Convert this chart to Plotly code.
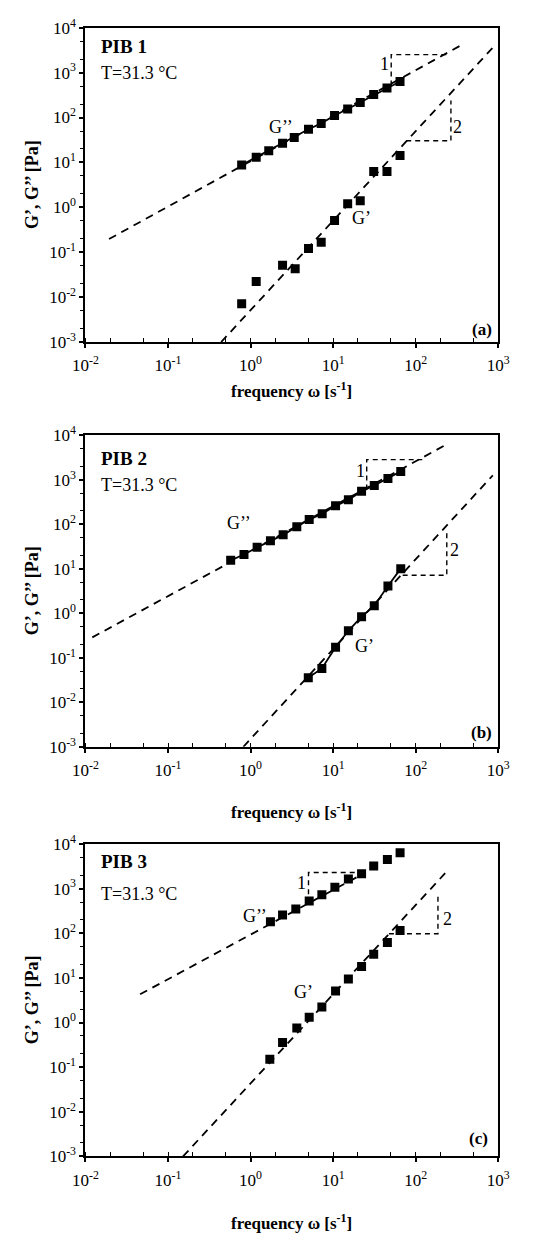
import plotly.graph_objects as go

# ---------------- data ----------------
# PIB 1
w1_Gpp = [0.78, 1.17, 1.66, 2.44, 3.38, 5.03, 7.17, 10.4, 15.0, 21.3, 31.0, 44.9, 64.6]
Gpp1 = [8.8, 13.1, 18.1, 26.6, 36, 55, 74, 111, 155, 217, 325, 456, 635]
w1_Gp = [0.78, 1.17, 2.44, 3.47, 5.03, 7.17, 10.4, 15.0, 21.3, 31.0, 44.9, 64.6]
Gp1 = [0.0071, 0.0223, 0.0514, 0.0428, 0.121, 0.167, 0.507, 1.21, 1.41, 6.3, 6.3, 14.3]
fit1_Gpp_w = [0.0193, 364]
fit1_Gpp = [0.197, 4180]
fit1_Gp_w = [0.44, 923]
fit1_Gp = [0.001, 4170]
tri1_a_w = [50.5, 50.5, 247]
tri1_a_G = [516, 2520, 2520]
tri2_a_w = [76.7, 267, 267]
tri2_a_G = [30.5, 30.5, 240]

# PIB 2
w2_Gpp = [0.574, 0.832, 1.2, 1.74, 2.48, 3.63, 5.13, 7.37, 10.7, 15.3, 22.1, 31.5, 46.1, 65.9]
Gpp2 = [15.5, 21, 30.4, 42.7, 58, 88.5, 128, 174, 261, 355, 552, 749, 1068, 1549]
w2_Gp = [5.0, 7.3, 10.7, 15.3, 22.1, 31.5, 46.1, 65.9]
Gp2 = [0.0358, 0.0578, 0.173, 0.405, 0.838, 1.48, 4.13, 10.1]
fit2_Gpp_w = [0.0121, 227.5]
fit2_Gpp = [0.288, 6010]
fit2_Gp_w = [0.818, 859]
fit2_Gp = [0.001, 1265]
tri1_b_w = [25.5, 25.5, 120]
tri1_b_G = [604, 2851, 2851]
tri2_b_w = [69.5, 238, 238]
tri2_b_G = [7.2, 7.2, 71]

# PIB 3
w3_Gpp = [1.74, 2.44, 3.53, 5.13, 7.3, 10.5, 15.3, 22.1, 31.0, 45.4, 64.7]
Gpp3 = [182, 256, 348, 529, 728, 1075, 1637, 2153, 3228, 4510, 6340]
w3_Gp = [1.71, 2.44, 3.63, 5.13, 7.3, 10.7, 15.3, 22.1, 31.0, 45.4, 64.7]
Gp3 = [0.151, 0.357, 0.753, 1.32, 2.22, 5.07, 9.5, 18, 33.7, 62, 116]
fit3_Gpp_w = [0.0459, 24.7]
fit3_Gpp = [4.29, 2301]
fit3_Gp_w = [0.152, 227.5]
fit3_Gp = [0.001, 2218]
tri1_c_w = [5.03, 5.03, 24.7]
tri1_c_G = [470, 2301, 2301]
tri2_c_w = [47.4, 186, 186]
tri2_c_G = [97.7, 97.7, 681]

x_tickvals = [1e-2, 1e-1, 1e0, 1e1, 1e2, 1e3]
x_ticktext = ["10<sup>-2</sup>", "10<sup>-1</sup>", "10<sup>0</sup>", "10<sup>1</sup>", "10<sup>2</sup>", "10<sup>3</sup>"]
y_tickvals = [1e-3, 1e-2, 1e-1, 1e0, 1e1, 1e2, 1e3, 1e4]
y_ticktext = ["10<sup>-3</sup>", "10<sup>-2</sup>", "10<sup>-1</sup>", "10<sup>0</sup>",
              "10<sup>1</sup>", "10<sup>2</sup>", "10<sup>3</sup>", "10<sup>4</sup>"]

# ---------------- layout helpers ----------------
W, H = 536, 1244
FONT = "Liberation Serif, Times New Roman, serif"


def px(x):
    return x / W


def py(y):
    return 1 - y / H


panels = [
    (16, 336, "PIB 1", "(a)"),
    (431, 748, "PIB 2", "(b)"),
    (847, 1165, "PIB 3", "(c)"),
]
X0, X1 = 76, 509

fig = go.Figure()

DASH = "8px,6px"


def add_panel(i, wpp, gpp, wp, gp, fpw, fp, fgw, fg, t1w, t1g, t2w, t2g, line_pp, line_p):
    xa = "x" if i == 1 else f"x{i}"
    ya = "y" if i == 1 else f"y{i}"
    dl = dict(color="black", width=1.8, dash=DASH)
    for xs, ys in [(fpw, fp), (fgw, fg)]:
        fig.add_trace(go.Scatter(x=xs, y=ys, mode="lines", line=dl, xaxis=xa, yaxis=ya,
                                 showlegend=False, hoverinfo="skip"))
    tl = dict(color="black", width=1.4, dash="5px,4px")
    for xs, ys in [(t1w, t1g), (t2w, t2g)]:
        fig.add_trace(go.Scatter(x=xs, y=ys, mode="lines", line=tl, xaxis=xa, yaxis=ya,
                                 showlegend=False, hoverinfo="skip"))
    mk = dict(symbol="square", size=9, color="black")
    fig.add_trace(go.Scatter(x=wpp, y=gpp, mode="lines+markers" if line_pp else "markers",
                             marker=mk, line=dict(color="black", width=1.8),
                             xaxis=xa, yaxis=ya, showlegend=False, name="G''"))
    fig.add_trace(go.Scatter(x=wp, y=gp, mode="lines+markers" if line_p else "markers",
                             marker=mk, line=dict(color="black", width=1.8),
                             xaxis=xa, yaxis=ya, showlegend=False, name="G'"))


add_panel(1, w1_Gpp, Gpp1, w1_Gp, Gp1, fit1_Gpp_w, fit1_Gpp, fit1_Gp_w, fit1_Gp,
          tri1_a_w, tri1_a_G, tri2_a_w, tri2_a_G, True, False)
add_panel(2, w2_Gpp, Gpp2, w2_Gp, Gp2, fit2_Gpp_w, fit2_Gpp, fit2_Gp_w, fit2_Gp,
          tri1_b_w, tri1_b_G, tri2_b_w, tri2_b_G, True, True)
add_panel(3, w3_Gpp, Gpp3, w3_Gp, Gp3, fit3_Gpp_w, fit3_Gpp, fit3_Gp_w, fit3_Gp,
          tri1_c_w, tri1_c_G, tri2_c_w, tri2_c_G, False, False)

tickfont = dict(family=FONT, size=17, color="black")
layout = dict(
    width=W, height=H, margin=dict(l=0, r=0, t=0, b=0),
    paper_bgcolor="white", plot_bgcolor="white", showlegend=False,
    font=dict(family=FONT, color="black"),
)
for i, (top, bot, name, tag) in enumerate(panels, start=1):
    xk = "xaxis" if i == 1 else f"xaxis{i}"
    yk = "yaxis" if i == 1 else f"yaxis{i}"
    yref = "y" if i == 1 else f"y{i}"
    xref = "x" if i == 1 else f"x{i}"
    layout[xk] = dict(
        type="log", range=[-2, 3], domain=[px(X0), px(X1)], anchor=yref,
        tickvals=x_tickvals, ticktext=x_ticktext, tickfont=tickfont,
        ticks="outside", ticklen=4, tickwidth=1.5, tickcolor="black", ticklabelstandoff=3,
        minor=dict(ticks="inside", ticklen=4, tickwidth=1, tickcolor="black", showgrid=False),
        showline=True, linecolor="black", linewidth=2, mirror=True,
        showgrid=False, zeroline=False,
    )
    layout[yk] = dict(
        type="log", range=[-3, 4], domain=[py(bot), py(top)], anchor=xref,
        tickvals=y_tickvals, ticktext=y_ticktext, tickfont=tickfont,
        ticks="outside", ticklen=4, tickwidth=1.5, tickcolor="black",
        minor=dict(ticks="outside", ticklen=3, tickwidth=1, tickcolor="black", showgrid=False),
        showline=True, linecolor="black", linewidth=2, mirror=True,
        showgrid=False, zeroline=False,
    )

fig.update_layout(**layout)

ann = []


def text(x, y, s, size=18, bold=False, xanchor="left", angle=0):
    if bold:
        s = f"<b>{s}</b>"
    ann.append(dict(x=px(x), y=py(y), xref="paper", yref="paper", text=s, showarrow=False,
                    xanchor=xanchor, yanchor="middle", textangle=angle,
                    font=dict(family=FONT, size=size, color="black")))


# panel (a)
text(90, 35, "PIB 1", 19, True)
text(90, 62, "T=31.3 °C", 18)
text(281, 117, "G’’", 18, xanchor="center")
text(366, 210, "G’", 18, xanchor="center")
text(390, 53, "1", 18, xanchor="center")
text(466, 117, "2", 18, xanchor="center")
text(505, 323, "(a)", 17, True, xanchor="right")
# panel (b)
text(90, 455, "PIB 2", 19, True)
text(90, 482, "T=31.3 °C", 18)
text(237, 520, "G’’", 18, xanchor="center")
text(369, 645, "G’", 18, xanchor="center")
text(365, 467, "1", 18, xanchor="center")
text(463, 548, "2", 18, xanchor="center")
text(505, 733, "(b)", 17, True, xanchor="right")
# panel (c)
text(90, 865, "PIB 3", 19, True)
text(90, 898, "T=31.3 °C", 18)
text(254, 920, "G’’", 18, xanchor="center")
text(305, 998, "G’", 18, xanchor="center")
text(303, 887, "1", 18, xanchor="center")
text(456, 923, "2", 18, xanchor="center")
text(500, 1147, "(c)", 17, True, xanchor="right")

# axis titles
for (top, bot, name, tag), ty in zip(panels, [385, 813, 1232]):
    text(292, ty, "frequency ω [s<sup>-1</sup>]", 17, True, xanchor="center")
    text(20, (top + bot) / 2, "G’, G’’ [Pa]", 18, True, xanchor="center", angle=-90)

fig.update_layout(annotations=ann)
fig.write_html("out.html")
